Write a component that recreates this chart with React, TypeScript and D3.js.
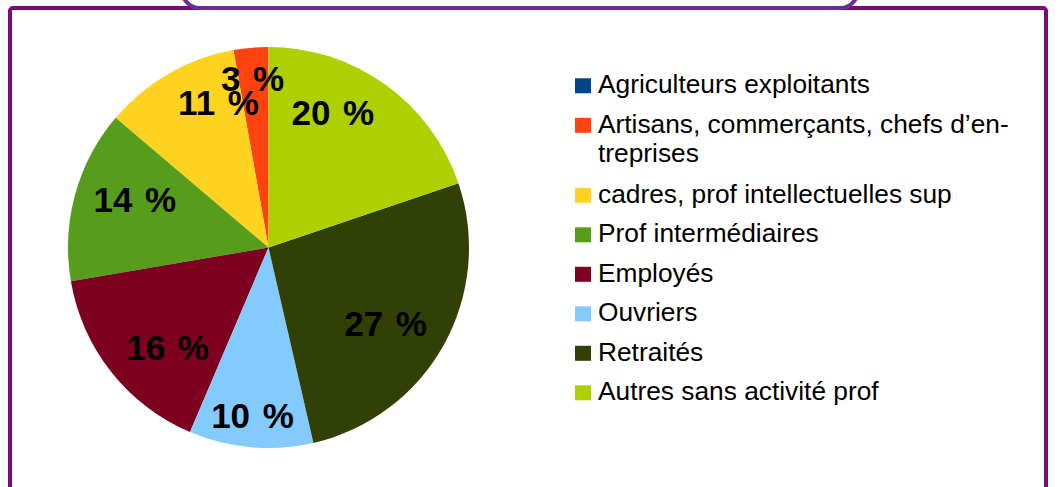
import React from "react";
import * as d3 from "d3";

// Socio-professional categories, in legend order
const categories = [
  "Agriculteurs exploitants",
  "Artisans, commerçants, chefs d’en-treprises",
  "cadres, prof intellectuelles sup",
  "Prof intermédiaires",
  "Employés",
  "Ouvriers",
  "Retraités",
  "Autres sans activité prof",
];

// Share of each category (percent)
const shares = [0, 2.8, 11.0, 13.9, 15.9, 10.0, 26.6, 19.8];

// Legend lines (the long label wraps on its hyphen)
const legendLines = [
  ["Agriculteurs exploitants"],
  ["Artisans, commerçants, chefs d’en-", "treprises"],
  ["cadres, prof intellectuelles sup"],
  ["Prof intermédiaires"],
  ["Employés"],
  ["Ouvriers"],
  ["Retraités"],
  ["Autres sans activité prof"],
];

const palette = [
  "#004586",
  "#ff420e",
  "#ffd320",
  "#579d1c",
  "#7e0021",
  "#83caff",
  "#314004",
  "#aecf00",
];

const W = 1058;
const H = 487;
const CX = 268.5;
const CY = 247.5;
const R = 200.5;
const LABEL_R = R * 0.905;
const LABEL_SIZE = 35;
const CAP = LABEL_SIZE * 0.7;
const FONT = "'Liberation Sans', Arial, Helvetica, sans-serif";

type Datum = { name: string; value: number; i: number };

export default function App() {
  const data: Datum[] = categories.map((name, i) => ({ name, value: shares[i], i }));
  const total = d3.sum(shares);

  // Slices run counter-clockwise from 12 o'clock
  const pie = d3
    .pie<Datum>()
    .value((d) => d.value)
    .sort(null)
    .startAngle(0)
    .endAngle(-2 * Math.PI);
  const arcs = pie(data);
  const arc = d3.arc<d3.PieArcDatum<Datum>>().innerRadius(0).outerRadius(R);

  const color = d3.scaleOrdinal<number, string>().domain(d3.range(categories.length)).range(palette);

  const t = Math.cos((67.5 * Math.PI) / 180);

  const labels = arcs
    .filter((a) => a.data.value > 0)
    .map((a) => {
      const mid = (a.startAngle + a.endAngle) / 2;
      const s = Math.sin(mid);
      const c = Math.cos(mid);
      const ax = CX + LABEL_R * s;
      const ay = CY - LABEL_R * c;
      const anchor = s > t ? "end" : s < -t ? "start" : "middle";
      const baseline = c > t ? ay + CAP : c < -t ? ay : ay + CAP / 2;
      const pct = Math.round((a.data.value / total) * 100);
      return { key: a.data.i, x: ax, y: baseline, anchor, text: `${pct} %` };
    });

  // Legend layout
  const legendX = 575;
  const textX = 598;
  const firstBaseline = 93.3;
  const itemGap = 39.5;
  const wrapGap = 29.5;
  const legendFont = 26.3;
  let yCursor = firstBaseline;
  const legendItems = legendLines.map((lines, i) => {
    const y = yCursor;
    yCursor += itemGap + (lines.length - 1) * wrapGap + (lines.length > 1 ? 1 : 0);
    return { i, y, lines };
  });

  return (
    <svg
      width={W}
      height={H}
      viewBox={`0 0 ${W} ${H}`}
      style={{ position: "absolute", left: 0, top: 0, background: "#ffffff" }}
    >
      <rect x={0} y={0} width={W} height={H} fill="#ffffff" />

      {/* frame */}
      <rect
        x={10}
        y={8}
        width={1036}
        height={600}
        rx={3}
        fill="none"
        stroke="#7a0a78"
        strokeWidth={4}
      />
      <path
        d="M 180 -10 Q 186 8 200 8 L 840 8 Q 854 8 860 -10"
        fill="none"
        stroke="#6b2d8f"
        strokeWidth={4}
      />

      {/* pie */}
      <g transform={`translate(${CX},${CY})`}>
        {arcs.map((a) => (
          <path key={a.data.i} d={arc(a) || ""} fill={color(a.data.i)} />
        ))}
      </g>

      {/* value labels */}
      <g fontFamily={FONT} fontWeight="bold" fontSize={LABEL_SIZE} fill="#000000">
        {labels.map((l) => (
          <text key={l.key} x={l.x} y={l.y} textAnchor={l.anchor} style={{ wordSpacing: "3px" }}>
            {l.text}
          </text>
        ))}
      </g>

      {/* legend */}
      <g fontFamily={FONT} fontSize={legendFont} fill="#000000">
        {legendItems.map((it) => (
          <g key={it.i}>
            <rect x={legendX} y={it.y - 15} width={16} height={15} fill={color(it.i)} />
            {it.lines.map((line, k) => (
              <text key={k} x={textX} y={it.y + k * wrapGap}>
                {line}
              </text>
            ))}
          </g>
        ))}
      </g>
    </svg>
  );
}
